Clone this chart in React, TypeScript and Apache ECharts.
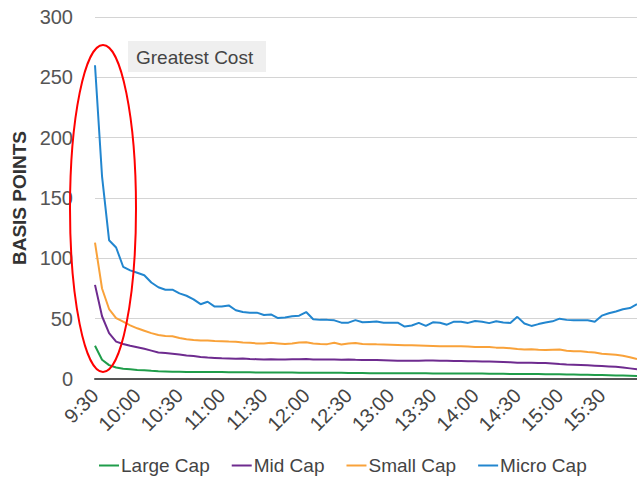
import React, { useEffect, useRef } from "react";
import * as echarts from "echarts";

const times = [
  "9:30", "9:35", "9:40", "9:45", "9:50", "9:55",
  "10:00", "10:05", "10:10", "10:15", "10:20", "10:25",
  "10:30", "10:35", "10:40", "10:45", "10:50", "10:55",
  "11:00", "11:05", "11:10", "11:15", "11:20", "11:25",
  "11:30", "11:35", "11:40", "11:45", "11:50", "11:55",
  "12:00", "12:05", "12:10", "12:15", "12:20", "12:25",
  "12:30", "12:35", "12:40", "12:45", "12:50", "12:55",
  "13:00", "13:05", "13:10", "13:15", "13:20", "13:25",
  "13:30", "13:35", "13:40", "13:45", "13:50", "13:55",
  "14:00", "14:05", "14:10", "14:15", "14:20", "14:25",
  "14:30", "14:35", "14:40", "14:45", "14:50", "14:55",
  "15:00", "15:05", "15:10", "15:15", "15:20", "15:25",
  "15:30", "15:35", "15:40", "15:45", "15:50", "15:55",
];

const largeCap = [
  27.5, 16, 11.5, 9.5, 8.5, 8, 7.5, 7.2, 6.8, 6.5,
  6.3, 6, 6, 5.8, 5.8, 5.8, 5.8, 5.8, 5.7, 5.6,
  5.5, 5.5, 5.5, 5.4, 5.4, 5.3, 5.3, 5.3, 5.3, 5.2,
  5.2, 5.2, 5.2, 5.1, 5.1, 5.1, 5, 5, 4.9, 4.8,
  4.8, 4.8, 4.8, 4.7, 4.7, 4.7, 4.7, 4.7, 4.6, 4.6,
  4.6, 4.6, 4.5, 4.5, 4.5, 4.5, 4.4, 4.3, 4.3, 4.2,
  4.2, 4.1, 4.1, 4.1, 4, 4, 3.9, 3.8, 3.7, 3.6,
  3.5, 3.4, 3.3, 3.2, 3, 2.9, 2.7, 2.5,
];

const midCap = [
  78, 52, 38, 31, 29, 27.5, 26.3, 25, 23.5, 22,
  21.5, 21, 20.3, 19.5, 19, 18.3, 17.8, 17.5, 17.2, 17,
  16.8, 17, 16.6, 16.4, 16.2, 16.3, 16.2, 16.2, 16.3, 16.4,
  16.6, 16.2, 16.2, 16.1, 16.2, 16, 16.2, 15.9, 15.7, 15.7,
  15.8, 15.6, 15.4, 15.2, 15.1, 15.1, 15.2, 15.3, 15.3, 15.2,
  15.1, 15, 15, 14.8, 14.8, 14.6, 14.5, 14.3, 14.1, 13.8,
  13.5, 13.4, 13.4, 13.3, 13.2, 12.9, 12.4, 12.1, 11.9, 11.6,
  11.3, 11, 10.7, 10.4, 10.1, 9.6, 8.8, 8,
];

const smallCap = [
  113, 75, 58, 50.5, 47.5, 44.5, 42, 40, 38, 36.5,
  35.7, 35.5, 34, 33, 32.3, 32, 32, 31.5, 31.3, 31,
  30.8, 30.3, 30, 29.5, 29.5, 30, 29.5, 29, 29.5, 30.2,
  30.5, 29.4, 29, 28.9, 30, 28.6, 29.5, 29.8, 29, 28.9,
  28.7, 28.6, 28.4, 28.2, 28, 27.9, 27.8, 27.6, 27.4, 27.2,
  27.2, 27.2, 27.2, 27, 26.6, 26.6, 26.5, 26, 25.8, 25.5,
  24.8, 24.5, 24.7, 24.3, 24, 24.3, 24.4, 23.5, 23, 23,
  22.4, 22, 21, 20.5, 20, 19.3, 18, 16.5,
];

const microCap = [
  260, 168, 115, 109, 93, 90, 88, 86, 80, 76,
  74, 74, 71, 69, 66, 62, 64, 60, 60, 61,
  57, 55.5, 55, 55, 53, 53.5, 50.5, 51, 52, 52.5,
  55.5, 49.5, 49, 49, 48.6, 46.7, 46.7, 48.8, 47, 47.3,
  47.6, 46.7, 46.7, 46.7, 43.5, 44.3, 46.5, 44, 47, 46.6,
  45, 47.5, 47.5, 46.5, 48, 47.5, 46.3, 47.8, 46.8, 46.5,
  51.5, 46, 44, 45.5, 46.8, 47.8, 50, 49, 48.6, 48.6,
  48.6, 47.5, 52.5, 54.5, 56, 57.8, 58.8, 62,
];

const seriesNames = ["Large Cap", "Mid Cap", "Small Cap", "Micro Cap"];
const seriesColors = ["#1f9d4a", "#6e2b8f", "#f9a23a", "#2286cf"];
const annotationText = "Greatest Cost";
const yAxisTitle = "BASIS POINTS";

const FONT = "'Liberation Sans', Arial, sans-serif";

export default function App() {
  const ref = useRef<HTMLDivElement>(null);

  useEffect(() => {
    if (!ref.current) return;
    const chart = echarts.init(ref.current, null, { renderer: "svg" });
    const datas = [largeCap, midCap, smallCap, microCap];
    chart.setOption({
      animation: false,
      textStyle: { fontFamily: FONT },
      grid: { left: 95, right: -2, top: 17, bottom: 98, containLabel: false },
      legend: {
        data: seriesNames,
        left: 94,
        top: 451,
        itemWidth: 20,
        itemHeight: 2,
        itemGap: 22,
        icon: "rect",
        textStyle: { fontSize: 19, color: "#444", fontFamily: FONT, padding: [0, 0, 0, -3] },
      },
      xAxis: {
        type: "category",
        data: times,
        boundaryGap: false,
        axisLine: { show: true, lineStyle: { color: "#555", width: 2 } },
        axisTick: { show: false },
        axisLabel: {
          interval: 5,
          rotate: 45,
          margin: 13,
          fontSize: 20,
          color: "#444",
          fontFamily: FONT,
        },
        splitLine: { show: false },
      },
      yAxis: {
        type: "value",
        min: 0,
        max: 300,
        interval: 50,
        name: yAxisTitle,
        nameLocation: "middle",
        nameRotate: 90,
        nameGap: 57,
        nameTextStyle: { fontSize: 19, fontWeight: "bold", color: "#333", fontFamily: FONT },
        axisLine: { show: false },
        axisTick: { show: false },
        axisLabel: { fontSize: 20, color: "#555", margin: 22, fontFamily: FONT },
        splitLine: { show: true, lineStyle: { color: "#d4d4d4", width: 1 } },
      },
      series: seriesNames.map((name, k) => ({
        name,
        type: "line",
        data: datas[k],
        showSymbol: false,
        symbol: "none",
        lineStyle: { color: seriesColors[k], width: 2 },
        itemStyle: { color: seriesColors[k] },
        z: 2 + k,
      })),
      graphic: [
        {
          type: "rect",
          z: 100,
          shape: { x: 128, y: 41, width: 138, height: 31 },
          style: { fill: "#efefef" },
        },
        {
          type: "text",
          z: 101,
          x: 136,
          y: 57,
          style: {
            text: annotationText,
            fontSize: 19,
            fill: "#444",
            fontFamily: FONT,
            verticalAlign: "middle",
            align: "left",
          },
        },
        {
          type: "ellipse",
          z: 102,
          shape: { cx: 103, cy: 208.5, rx: 33, ry: 163.5 },
          style: { fill: "none", stroke: "#ff0000", lineWidth: 2 },
        },
      ],
    });
    return () => chart.dispose();
  }, []);

  return (
    <div
      ref={ref}
      style={{ position: "absolute", left: 0, top: 0, width: 637, height: 477 }}
    />
  );
}
